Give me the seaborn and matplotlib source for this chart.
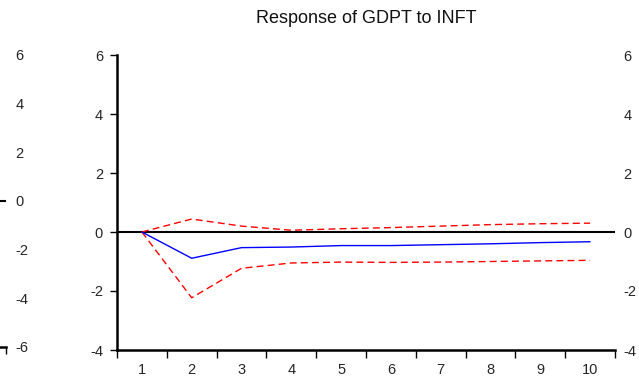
import matplotlib
matplotlib.use("Agg")
import matplotlib.pyplot as plt
import seaborn as sns
import pandas as pd

periods = [1, 2, 3, 4, 5, 6, 7, 8, 9, 10]
response = [0.0, -0.89, -0.53, -0.51, -0.46, -0.46, -0.43, -0.40, -0.36, -0.33]
upper = [0.0, 0.44, 0.20, 0.06, 0.11, 0.15, 0.20, 0.25, 0.28, 0.30]
lower = [0.0, -2.23, -1.23, -1.05, -1.02, -1.03, -1.02, -1.00, -0.98, -0.96]
y_ticks = [-4, -2, 0, 2, 4, 6]
left_ticks = [-6, -4, -2, 0, 2, 4, 6]
title = "Response of GDPT to INFT"

sns.set_theme(style="white")
plt.rcParams['font.family'] = ['Liberation Sans', 'DejaVu Sans']

W, H = 639, 377
fig = plt.figure(figsize=(W / 100, H / 100), dpi=100)

def box(x0, x1, ytop, ybot):
    return [x0 / W, 1 - ybot / H, (x1 - x0) / W, (ybot - ytop) / H]

ax = fig.add_axes(box(117, 615, 55, 350))
df = pd.DataFrame({"period": periods, "response": response, "upper": upper, "lower": lower})

ax.axhline(0, color="black", lw=1.5, zorder=1)
sns.lineplot(data=df, x="period", y="upper", ax=ax, color="red", lw=1.0,
             linestyle=(0, (5, 3)))
sns.lineplot(data=df, x="period", y="lower", ax=ax, color="red", lw=1.0,
             linestyle=(0, (5, 3)))
sns.lineplot(data=df, x="period", y="response", ax=ax, color="blue", lw=1.0)

FS = 10.5
ax.set_xlim(0.5, 10.5)
ax.set_ylim(-4, 6)
ax.set_yticks(y_ticks)
ax.set_yticklabels([str(t) for t in y_ticks], fontsize=FS)
ax.set_xticks([p + 0.5 for p in [0] + periods])
ax.set_xticklabels([])
ax.set_xticks(periods, minor=True)
ax.set_xticklabels([str(p) for p in periods], minor=True, fontsize=FS)
ax.tick_params(axis="x", which="major", direction="out", length=6, width=1, color="black", bottom=True)
ax.tick_params(axis="x", which="minor", length=0, pad=9, bottom=True)
ax.tick_params(axis="y", direction="out", length=5, width=1, color="black", pad=5, left=True)
ax.set_xlabel("")
ax.set_ylabel("")
for s in ["top", "right"]:
    ax.spines[s].set_visible(False)
for s in ["left", "bottom"]:
    ax.spines[s].set_color("black")
    ax.spines[s].set_linewidth(1.8)
ax.set_title(title, fontsize=13, pad=23, color="#111111")

# right-hand label axis
ax2 = ax.twinx()
ax2.set_ylim(-4, 6)
ax2.set_yticks(y_ticks)
ax2.set_yticklabels([str(t) for t in y_ticks], fontsize=FS)
ax2.tick_params(axis="y", length=0, pad=6, right=True)
for s in ax2.spines.values():
    s.set_visible(False)
ax2.grid(False)

# neighbouring chart's right edge (cropped)
ax3 = fig.add_axes(box(-300, 6, 55, 347))
ax3.set_xlim(0.5, 10.5)
ax3.set_ylim(-6, 6)
ax3.axhline(0, color="black", lw=1.5)
ax3.set_yticks(left_ticks)
ax3.yaxis.tick_right()
ax3.set_yticklabels([str(t) for t in left_ticks], fontsize=FS)
ax3.tick_params(axis="y", length=0, pad=7)
ax3.set_xticks([10.5])
ax3.set_xticklabels([])
ax3.tick_params(axis="x", direction="out", length=5, width=1, color="black", bottom=True)
for s in ["top", "right", "left"]:
    ax3.spines[s].set_visible(False)
ax3.spines["bottom"].set_color("black")
ax3.spines["bottom"].set_linewidth(1.8)

fig.savefig("out.png", dpi=100)
